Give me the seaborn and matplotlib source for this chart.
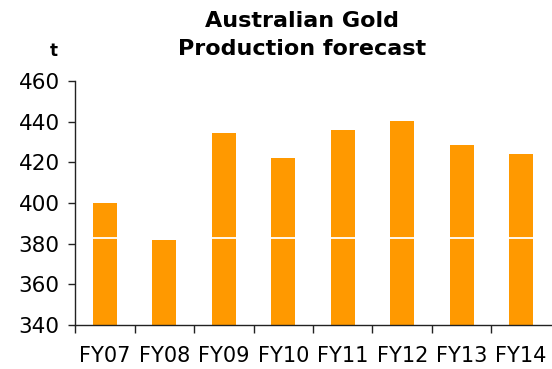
import matplotlib
matplotlib.use("Agg")
import matplotlib.pyplot as plt
import seaborn as sns
import pandas as pd

# values (tonnes)
years = ["FY07", "FY08", "FY09", "FY10", "FY11", "FY12", "FY13", "FY14"]
base = [383, 382, 383, 383, 383, 383, 383, 383]
total = [400, 382, 434.5, 422, 436, 440.5, 428.5, 424]

ORANGE = "#FF9900"

sns.set_style("white")
plt.rcParams["font.family"] = ["DejaVu Sans"]
plt.rcParams["text.color"] = "black"
plt.rcParams["xtick.color"] = "#222222"
plt.rcParams["ytick.color"] = "#222222"
plt.rcParams["xtick.labelcolor"] = "black"
plt.rcParams["ytick.labelcolor"] = "black"

df = pd.DataFrame({"year": years, "base": base, "total": total})

fig = plt.figure(figsize=(5.52, 3.69), dpi=100)
ax = fig.add_axes([0.136, 0.119, 0.862, 0.661])

sns.barplot(data=df, x="year", y="total", color=ORANGE, saturation=1,
            width=0.4, linewidth=0, ax=ax, zorder=2)

# white divider between the two stacked segments
for patch, b, t in zip(ax.patches, base, total):
    if t > b:
        ax.hlines(b, patch.get_x(), patch.get_x() + patch.get_width(),
                  color="white", lw=1.3, zorder=3)

ax.set_ylim(340, 460)
ax.set_xlim(-0.5, 7.5)
ax.set_yticks(range(340, 461, 20))
ax.set_xticks([i - 0.5 for i in range(8)])
ax.set_xticklabels([])
ax.set_xticks(range(8), minor=True)
ax.set_xticklabels(years, minor=True, fontsize=15)
ax.tick_params(axis="x", which="major", bottom=True, direction="out", length=6, width=1)
ax.tick_params(axis="x", which="minor", bottom=False, length=0, pad=15)
ax.tick_params(axis="y", left=True, direction="out", length=5, width=1,
               labelsize=15.5, pad=6)
ax.set_xlabel("")
ax.set_ylabel("")

sns.despine(ax=ax)
for s in ["left", "bottom"]:
    ax.spines[s].set_color("#222222")
    ax.spines[s].set_linewidth(1)

fig.text(0.547, 0.97, "Australian Gold\nProduction forecast", ha="center", va="top",
         fontsize=16, fontweight="bold", linespacing=1.5)
fig.text(0.097, 0.862, "t", ha="center", va="center", fontsize=12, fontweight="bold")

fig.savefig("out.png", dpi=100)
